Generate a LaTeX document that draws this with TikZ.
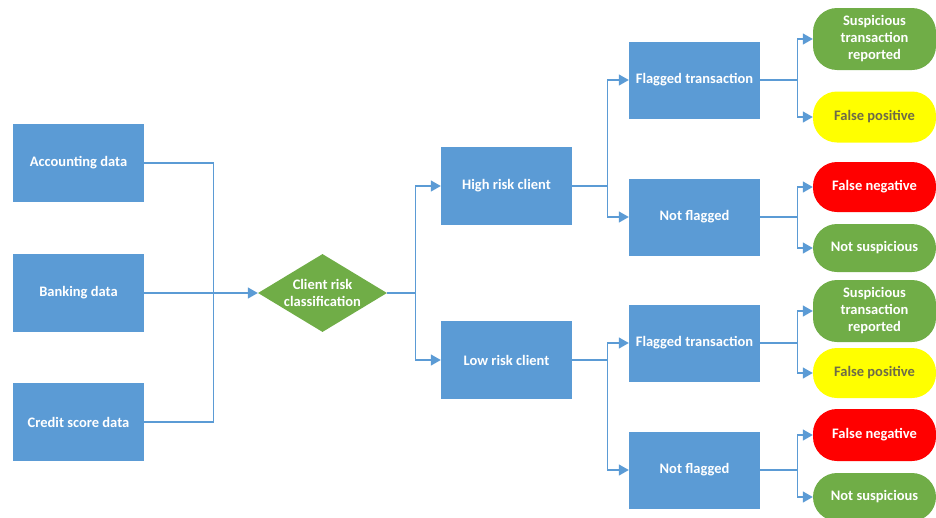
\documentclass[tikz,border=0pt]{standalone}
\usepackage{fontspec}
\setmainfont{Carlito}
\usetikzlibrary{shapes.geometric,arrows.meta,positioning}
\definecolor{boxblue}{HTML}{5B9BD5}
\definecolor{leafgreen}{HTML}{70AD47}
\definecolor{leafred}{HTML}{FF0000}
\definecolor{leafyellow}{HTML}{FFFF00}
\tikzset{blue box/.style={fill=boxblue,text=white,minimum width=131pt,
                          minimum height=78pt,inner sep=2pt,align=center},
         leaf/.style args={#1 with height #2}{fill=#1,text=white,rounded corners=24pt,
                          minimum width=123pt,minimum height=#2,inner sep=1pt,align=center},
         link/.style={draw=boxblue,line width=1.3pt},
         arrow link/.style={link,-{Triangle[length=10pt,width=11pt]}}}

\begin{document}
\begin{tikzpicture}[x=1pt,y=-1pt,font=\bfseries\fontsize{14.5}{17}\selectfont]
        \useasboundingbox (0,0) rectangle (936,517);
        %
        % data sources
        \node[blue box] (acc) at (78.5,163) {Accounting data};
        \node[blue box] (bank) at (78.5,293) {Banking data};
        \node[blue box] (cred) at (78.5,422) {Credit score data};
        \node[diamond,aspect=1.65,inner sep=-3pt,fill=leafgreen,text=white,align=center,
              minimum width=129pt,minimum height=78pt] (crc) at (322.5,293) {Client risk\\classification};
        \draw[link] (acc.east) -- ++(69,0) |- (cred.east);
        \draw[arrow link] (bank) -- (crc);
        % risk classes
        \node[blue box] (hi) at (506.5,186) {High risk client};
        \node[blue box] (lo) at (506.5,360) {Low risk client};
        \foreach \R in {hi,lo}
            {\draw[arrow link] (crc.east) -- ++(28,0) |- (\R.west);}
        % monitoring
        \node[blue box,minimum height=77pt] (fl1) at (694.5,80) {Flagged transaction};
        \node[blue box,minimum height=77pt] (nf1) at (694.5,217) {Not flagged};
        \node[blue box,minimum height=77pt] (fl2) at (694.5,343) {Flagged transaction};
        \node[blue box,minimum height=77pt] (nf2) at (694.5,470) {Not flagged};
        \foreach \R/\X in {hi/fl1,hi/nf1,lo/fl2,lo/nf2}
            {\draw[arrow link] (\R.east) -- ++(35,0) |- (\X.west);}
        % outcomes
        \node[leaf=leafgreen with height 62pt] (sus1) at (874.5,39) {Suspicious\\transaction\\reported};
        \node[leaf=leafyellow with height 51pt,text=black!65!yellow] (fp1) at (874.5,117) {False positive};
        \node[leaf=leafred with height 50pt] (fn1) at (874.5,187) {False negative};
        \node[leaf=leafgreen with height 48pt] (ns1) at (874.5,248) {Not suspicious};
        \node[leaf=leafgreen with height 62pt] (sus2) at (874.5,311) {Suspicious\\transaction\\reported};
        \node[leaf=leafyellow with height 50pt,text=black!65!yellow] (fp2) at (874.5,373) {False positive};
        \node[leaf=leafred with height 52pt] (fn2) at (874.5,435) {False negative};
        \node[leaf=leafgreen with height 48pt] (ns2) at (874.5,497) {Not suspicious};
        \foreach \X/\Y in {fl1/sus1,fl1/fp1,nf1/fn1,nf1/ns1,fl2/sus2,fl2/fp2,nf2/fn2,nf2/ns2}
            {\draw[arrow link] (\X.east) -- ++(37,0) |- (\Y.west);}
\end{tikzpicture}
\end{document}
